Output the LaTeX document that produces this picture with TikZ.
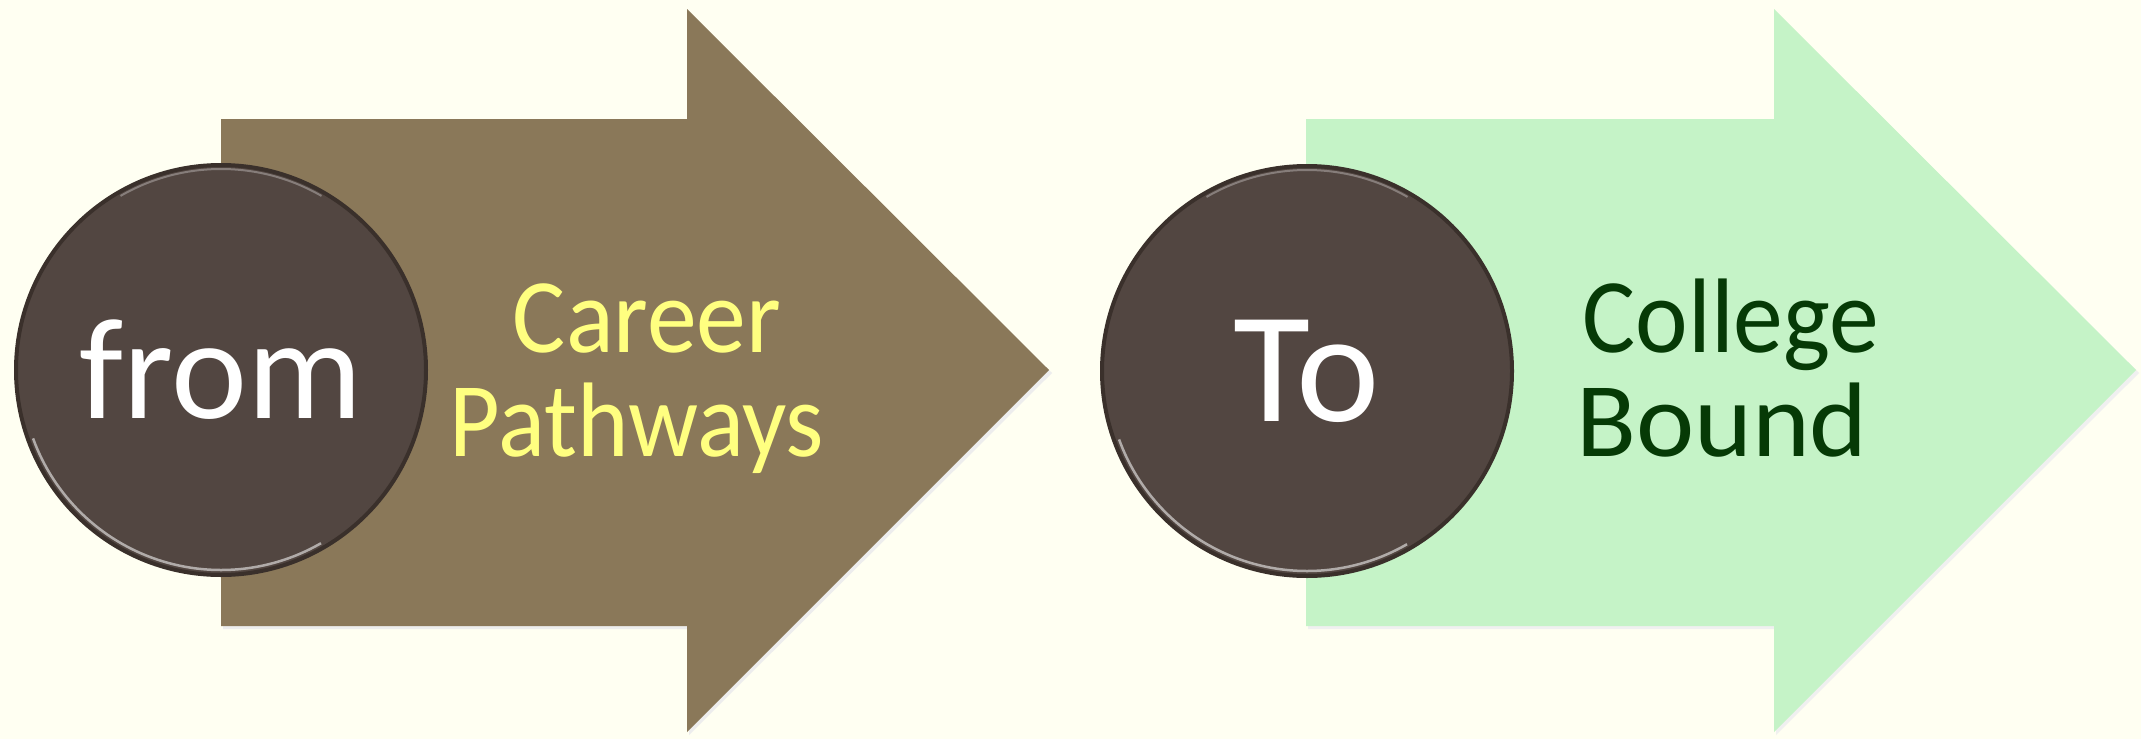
\documentclass[tikz,border=0pt]{standalone}
\usepackage{graphicx}
\usepackage{fontspec}
\setmainfont{Carlito}
\definecolor{bgc}{HTML}{FFFFF2}
\definecolor{arrowA}{HTML}{8A7859}
\definecolor{arrowB}{HTML}{C5F3C7}
\definecolor{discc}{HTML}{524641}
\definecolor{rimc}{HTML}{3A302B}
\definecolor{yel}{HTML}{FFFF80}
\definecolor{grn}{HTML}{063A06}
\tikzset{
  disc/.style={circle, fill=discc, draw=rimc, line width=4pt, minimum size=410pt, inner sep=0pt,
    text=white},
  label/.style={anchor=base, inner sep=0pt, font=\fontsize{106}{104}\selectfont},
  shine/.style={white, opacity=0.55, line width=2.5pt},
  shinetop/.style={white, opacity=0.3, line width=2pt},
}
\begin{document}
\begin{tikzpicture}[x=1pt,y=-1pt]
\fill[bgc] (0,0) rectangle (2141,739);
\useasboundingbox (0,0) rectangle (2141,739);
% arrow 1
\fill[black!7] (223,122) -- (689,122) -- (689,12) -- (1052,373) -- (689,735) -- (689,629) -- (223,629) -- cycle;
\fill[arrowA] (221,119) -- (687,119) -- (687,9) -- (1049,370) -- (687,732) -- (687,626) -- (221,626) -- cycle;
% arrow 2
\fill[black!6] (1308,122) -- (1776,122) -- (1776,12) -- (2139,373) -- (1776,735) -- (1776,629) -- (1308,629) -- cycle;
\fill[arrowB] (1306,119) -- (1774,119) -- (1774,9) -- (2136,370) -- (1774,732) -- (1774,626) -- (1306,626) -- cycle;
% discs
\node[disc, font=\fontsize{144}{150}\selectfont] (d1) at (221,370) {from};
\node[disc, font=\fontsize{158}{160}\selectfont] (d2) at (1307,371) {To};
\draw[shine] ([shift={(200:200pt)}]d1.center) arc[start angle=200, end angle=300, radius=200pt];
\draw[shine] ([shift={(200:200pt)}]d2.center) arc[start angle=200, end angle=300, radius=200pt];
\draw[shinetop] ([shift={(60:201pt)}]d1.center) arc[start angle=60, end angle=120, radius=201pt];
\draw[shinetop] ([shift={(60:201pt)}]d2.center) arc[start angle=60, end angle=120, radius=201pt];
% labels
\node[label, text=yel] (t1a) at (647,352) {\scalebox{0.94}[1]{Career}};
\node[label, text=yel] (t1b) at (637,456) {\scalebox{0.925}[1]{Pathways}};
\node[label, text=grn] (t2a) at (1731,352) {\scalebox{0.94}[1]{College}};
\node[label, text=grn] (t2b) at (1722,456) {\scalebox{1.04}[1]{Bound}};
\end{tikzpicture}
\end{document}
